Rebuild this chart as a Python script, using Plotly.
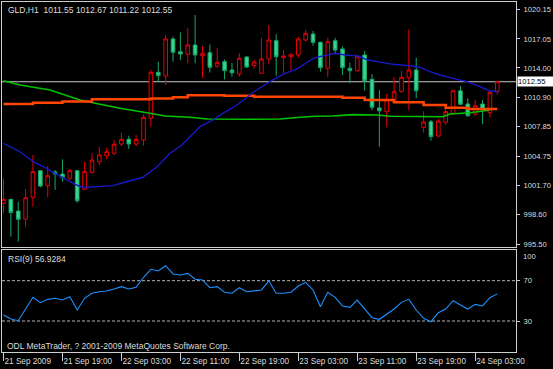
import plotly.graph_objects as go

# ---------------- data ----------------
bar_index = list(range(68))
time_tick_bars = [0, 8, 16, 24, 32, 40, 48, 56, 64]
time_tick_labels = ["21 Sep 2009", "21 Sep 19:00", "22 Sep 03:00", "22 Sep 11:00",
                    "22 Sep 19:00", "23 Sep 03:00", "23 Sep 11:00", "23 Sep 19:00",
                    "24 Sep 03:00"]
price_ticks = [1020.15, 1017.05, 1014.00, 1010.90, 1007.85, 1004.75, 1001.70, 998.60, 995.50]
rsi_ticks = [70, 30]
rsi_levels = [70, 30]
last_price = 1012.55

opens = [999.80, 1000.22, 998.99, 998.15, 1000.39, 1003.22, 1001.65, 1003.08, 1002.87, 1002.42,
         1003.22, 1001.27, 1003.01, 1004.16, 1004.79, 1005.04, 1006.02, 1006.51, 1006.02, 1006.44,
         1008.72, 1013.54, 1013.15, 1017.04, 1015.70, 1015.43, 1016.41, 1015.28, 1015.60, 1014.18,
         1014.66, 1013.78, 1013.36, 1015.15, 1014.26, 1013.44, 1014.94, 1016.86, 1015.07, 1015.18,
         1015.36, 1016.93, 1017.56, 1016.69, 1013.96, 1016.86, 1015.99, 1013.96, 1013.71, 1015.36,
         1012.81, 1009.80, 1009.41, 1010.46, 1011.51, 1012.98, 1013.78, 1007.77, 1008.36, 1006.86,
         1008.30, 1009.24, 1011.61, 1010.22, 1009.17, 1010.22, 1009.31, 1011.55]
highs = [1002.42, 1000.22, 999.97, 1001.30, 1004.87, 1003.29, 1003.71, 1003.29, 1004.42, 1003.40,
         1003.22, 1004.16, 1005.04, 1005.74, 1005.63, 1006.44, 1007.21, 1006.89, 1006.96, 1009.14,
         1013.78, 1014.66, 1017.46, 1017.28, 1017.74, 1018.16, 1019.55, 1016.30, 1016.48, 1016.06,
         1014.89, 1014.52, 1015.54, 1015.23, 1014.86, 1017.14, 1018.50, 1017.53, 1015.88, 1015.49,
         1017.28, 1017.98, 1017.88, 1016.75, 1017.17, 1017.17, 1016.27, 1014.55, 1015.36, 1015.78,
         1013.36, 1011.69, 1011.27, 1013.02, 1013.68, 1018.05, 1015.07, 1009.46, 1008.54, 1008.64,
         1009.77, 1011.69, 1012.11, 1010.81, 1010.64, 1010.64, 1011.61, 1012.67]
lows = [998.75, 996.30, 995.77, 997.35, 999.44, 1001.48, 1000.43, 1001.20, 1002.07, 1002.24,
        999.86, 1001.20, 1002.95, 1003.82, 1004.42, 1004.87, 1005.81, 1005.50, 1005.81, 1005.84,
        1007.84, 1012.56, 1012.21, 1014.66, 1014.83, 1014.49, 1014.49, 1012.94, 1013.52, 1013.96,
        1012.79, 1013.08, 1013.08, 1014.02, 1013.96, 1013.42, 1014.38, 1013.19, 1013.44, 1013.78,
        1015.07, 1016.75, 1016.33, 1013.61, 1013.08, 1015.43, 1013.26, 1012.39, 1013.61, 1011.61,
        1009.59, 1005.74, 1007.77, 1010.43, 1011.40, 1009.59, 1010.81, 1007.21, 1006.37, 1006.76,
        1008.01, 1009.06, 1010.11, 1008.88, 1008.99, 1008.12, 1008.82, 1011.22]
closes = [1000.22, 998.84, 998.12, 1000.39, 1003.12, 1001.61, 1002.70, 1002.87, 1002.49, 1003.22,
          1000.07, 1003.12, 1004.34, 1004.87, 1005.21, 1005.99, 1006.51, 1006.02, 1006.51, 1008.82,
          1013.54, 1013.19, 1017.04, 1015.64, 1015.46, 1016.41, 1015.36, 1015.54, 1014.07, 1014.59,
          1013.71, 1013.50, 1015.01, 1014.10, 1014.62, 1014.94, 1016.93, 1015.18, 1015.25, 1015.43,
          1017.04, 1017.63, 1016.69, 1014.03, 1016.75, 1015.88, 1014.03, 1013.71, 1015.18, 1012.66,
          1009.87, 1009.51, 1010.64, 1011.51, 1013.02, 1013.78, 1011.61, 1008.33, 1006.79, 1008.43,
          1009.41, 1011.61, 1010.19, 1008.99, 1010.04, 1009.59, 1011.44, 1012.55]

# blue moving average (bar position, price)
blue_pos = [0, 2.24, 4.04, 5.86, 6.99, 8.58, 9.93, 10.83, 12.42, 14.86, 16.21, 18.93, 20.83,
            22.59, 24.22, 26.66, 28.43, 29.38, 31.68, 34.12, 36.16, 37.92, 39.96, 41.99, 42.94,
            44.98, 46.34, 48.1, 49.46, 51.09, 52.85, 55.16, 56.51, 57.87, 59.23, 60.99, 62.89,
            64.65, 66.01, 67]
blue_val = [1006.09, 1005.21, 1004.16, 1003.47, 1002.95, 1002.25, 1001.72, 1001.46, 1001.54,
            1001.65, 1001.96, 1002.53, 1003.64, 1005.05, 1005.92, 1007.84, 1008.54, 1009.06,
            1010.11, 1011.58, 1012.56, 1013.33, 1013.96, 1015.01, 1015.18, 1015.54, 1015.36,
            1015.25, 1014.83, 1014.59, 1014.38, 1014.24, 1014.05, 1013.61, 1013.26, 1012.91,
            1012.56, 1012.03, 1011.58, 1011.51]

# orange stepped average (step start bar, price)
orange_pos = [0, 4, 8, 12, 20, 23, 25, 30, 34, 46, 49, 53, 57, 60, 63, 67]
orange_val = [1010.22, 1010.35, 1010.48, 1010.71, 1010.79, 1010.92, 1011.13, 1011.09, 1010.98,
              1010.88, 1010.64, 1010.40, 1010.11, 1009.83, 1009.69, 1009.69]

# green slow average (bar position, price)
green_pos = [0, 2.24, 6.31, 9.02, 10.38, 13.09, 15.81, 19.88, 21.91, 25.3, 27.61, 33.45, 37.52,
             40.23, 42.4, 44.57, 47.42, 50.68, 52.44, 59.63, 60.58, 63.3, 66.01]
green_val = [1012.66, 1012.21, 1011.69, 1010.98, 1010.64, 1010.19, 1009.77, 1009.24, 1008.96,
             1008.82, 1008.64, 1008.61, 1008.64, 1008.82, 1008.93, 1008.96, 1009.10, 1009.06,
             1008.93, 1008.88, 1009.17, 1009.30, 1009.59]

rsi = [36, 32, 30.3, 42, 53.5, 48.2, 51.5, 52.5, 50.8, 54.1,
       40.9, 52.5, 57.5, 59.1, 59.8, 61.8, 64.1, 61.8, 63.4, 73.4,
       81.3, 79.6, 84.9, 76.7, 75.7, 77.3, 71.4, 70.7, 63, 64.1,
       58.5, 57.5, 63, 59.1, 60.1, 60.8, 69.7, 57.5, 57.5, 58.5,
       64.7, 68.4, 60.8, 44.2, 58.5, 53.5, 44.9, 43.6, 50.8, 42.6,
       33.3, 31.7, 36.9, 41.9, 48.5, 51.5, 40.9, 32.7, 29.3, 38.2,
       41.9, 50.1, 45.9, 41.9, 46.5, 44.9, 53.1, 56.93]

title_text = "GLD,H1  1011.55 1012.67 1011.22 1012.55"
rsi_text = "RSI(9) 56.9284"
footer_text = "ODL MetaTrader, ? 2001-2009 MetaQuotes Software Corp."

# ---------------- layout helpers ----------------
W, H = 553, 369
ML, MR, MT, MB = 2, 37, 2, 17
PW, PH = W - ML - MR, H - MT - MB


def fx(px):
    return (px - ML) / PW


def fy(py):
    return (H - MB - py) / PH


FONT = "Liberation Sans, Arial, sans-serif"
TXT = "#DCDCDC"
FRAME = "#D0D0D0"
FS = 8.5
AX_FS = 7.6

fig = go.Figure()

fig.add_trace(go.Candlestick(
    x=bar_index, open=opens, high=highs, low=lows, close=closes,
    increasing=dict(line=dict(color="#E80000", width=1), fillcolor="#000000"),
    decreasing=dict(line=dict(color="#17A868", width=1), fillcolor="#3AD48E"),
    xaxis="x", yaxis="y", hoverinfo="skip", showlegend=False))

fig.add_trace(go.Scatter(x=green_pos, y=green_val, mode="lines",
                         line=dict(color="#00C400", width=1.6),
                         xaxis="x", yaxis="y", hoverinfo="skip", showlegend=False))
fig.add_trace(go.Scatter(x=orange_pos, y=orange_val, mode="lines",
                         line=dict(color="#FF4500", width=2.6, shape="hv"),
                         xaxis="x", yaxis="y", hoverinfo="skip", showlegend=False))
fig.add_trace(go.Scatter(x=blue_pos, y=blue_val, mode="lines",
                         line=dict(color="#1818C8", width=1.4),
                         xaxis="x", yaxis="y", hoverinfo="skip", showlegend=False))

fig.add_trace(go.Scatter(x=bar_index, y=rsi, mode="lines",
                         line=dict(color="#1E90FF", width=1.1),
                         xaxis="x2", yaxis="y2", hoverinfo="skip", showlegend=False))

x_range = [(ML - 3.5) / 7.37, (W - MR - 3.5) / 7.37]
main_top, main_bot = 2, 247
rsi_top, rsi_bot = 250, 352

common_x = dict(range=x_range, showgrid=False, zeroline=False, showline=True,
                linecolor=FRAME, linewidth=1, mirror=True, fixedrange=True,
                automargin=False)

fig.update_layout(
    width=W, height=H,
    margin=dict(l=ML, r=MR, t=MT, b=MB, pad=0, autoexpand=False),
    paper_bgcolor="#000000", plot_bgcolor="#000000",
    font=dict(family=FONT, size=FS, color=TXT),
    showlegend=False,
    xaxis=dict(anchor="y", domain=[0, 1], showticklabels=False, ticks="",
               rangeslider=dict(visible=False), **common_x),
    xaxis2=dict(anchor="y2", domain=[0, 1], matches="x",
                tickvals=time_tick_bars, ticktext=time_tick_labels,
                ticks="outside", ticklen=8, tickcolor=FRAME, tickangle=0,
                ticklabelposition="outside right", ticklabelstandoff=1,
                tickfont=dict(family=FONT, size=8.2, color=TXT),
                **common_x),
    yaxis=dict(domain=[fy(main_bot), fy(main_top)], anchor="x", side="right",
               range=[995.217, 1020.917], tickvals=price_ticks,
               ticktext=[f"{v:.2f}" for v in price_ticks],
               ticks="outside", ticklen=3, tickcolor=FRAME, ticklabelstandoff=2,
               tickfont=dict(family=FONT, size=AX_FS, color=TXT),
               showgrid=False, zeroline=False, showline=True, linecolor=FRAME,
               linewidth=1, mirror=True, fixedrange=True, automargin=False),
    yaxis2=dict(domain=[fy(rsi_bot), fy(rsi_top)], anchor="x2", side="right",
                range=[-0.77, 100.47], tickvals=rsi_ticks,
                ticktext=[str(v) for v in rsi_ticks],
                ticks="outside", ticklen=3, tickcolor=FRAME, ticklabelstandoff=2,
                tickfont=dict(family=FONT, size=AX_FS, color=TXT),
                showgrid=False, zeroline=False, showline=True, linecolor=FRAME,
                linewidth=1, mirror=True, fixedrange=True, automargin=False),
)

shapes = [dict(type="line", xref="x domain", x0=0, x1=1, yref="y", y0=last_price, y1=last_price,
               line=dict(color="#C8C8C8", width=1), layer="below")]
for lv in rsi_levels:
    shapes.append(dict(type="line", xref="x2 domain", x0=0, x1=1, yref="y2", y0=lv, y1=lv,
                       line=dict(color="#B4B4B4", width=1, dash="3px,2px"), layer="below"))
fig.update_layout(shapes=shapes)

annotations = [
    dict(text=title_text, xref="paper", yref="paper", x=fx(6), y=fy(9.5),
         xanchor="left", yanchor="middle", showarrow=False,
         font=dict(family=FONT, size=FS, color=TXT)),
    dict(text=rsi_text, xref="paper", yref="paper", x=fx(6), y=fy(258.5),
         xanchor="left", yanchor="middle", showarrow=False,
         font=dict(family=FONT, size=FS, color=TXT)),
    dict(text=footer_text, xref="paper", yref="paper", x=fx(5), y=fy(346),
         xanchor="left", yanchor="middle", showarrow=False,
         font=dict(family=FONT, size=FS, color=TXT)),
    dict(text="100", xref="paper", yref="paper", x=fx(521), y=fy(256),
         xanchor="left", yanchor="middle", showarrow=False,
         font=dict(family=FONT, size=AX_FS, color=TXT)),
    dict(text=f"{last_price:.2f}", xref="paper", yref="y", x=1, y=last_price,
         xanchor="left", yanchor="middle", xshift=1, showarrow=False,
         bgcolor="#FFFFFF", borderpad=0, width=35, height=9, align="left",
         font=dict(family=FONT, size=AX_FS, color="#000000")),
]
fig.update_layout(annotations=annotations)

fig.write_html("out.html",
               config={"displayModeBar": False, "staticPlot": True},
               post_script="document.body.style.margin='0';document.body.style.overflow='hidden';")
